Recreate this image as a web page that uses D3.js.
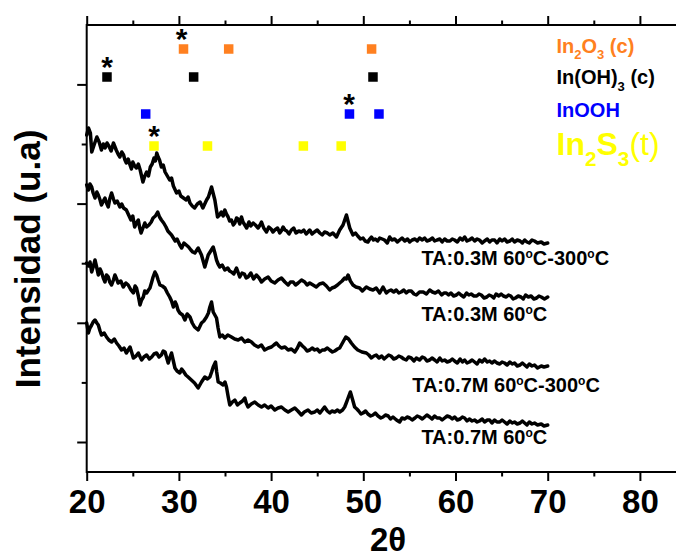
<!DOCTYPE html>
<html>
<head>
<meta charset="utf-8">
<script src="https://cdn.jsdelivr.net/npm/d3@7"></script>
<style>
  html, body { margin: 0; padding: 0; background: #fff; }
  svg { display: block; font-family: "Liberation Sans", Arial, sans-serif; }
</style>
</head>
<body>
<svg id="chart" width="676" height="558"></svg>
<script>
// XRD patterns, [2θ, intensity (a.u.)]
const ta03_300 = [
  [20.0,307],[20.2,314],[20.4,309],[20.55,290],[20.8,297],[21.1,305],[21.35,300],[21.6,292],[21.8,298],[22.0,294],
  [22.2,299],[22.4,296],[22.65,291],[22.9,299],[23.2,292],[23.4,288],[23.6,285],[23.8,290],[24.0,287],[24.15,282],
  [24.3,279],[24.5,283],[24.7,277],[24.85,273],[25.0,280],[25.2,276],[25.4,274],[25.6,278],[25.8,272],[26.1,260],
  [26.3,266],[26.5,270],[26.7,266],[26.9,275],[27.1,278],[27.3,284],[27.45,281],[27.6,289],[27.75,285],[27.9,282],
  [28.1,275],[28.3,277],[28.5,270],[28.75,266],[29.0,262],[29.2,264],[29.4,256],[29.6,252],[29.75,249],[30.0,251],
  [30.2,246],[30.5,244],[30.8,242],[31.0,245],[31.2,239],[31.45,236],[31.7,234],[32.0,238],[32.3,240],[32.6,234],
  [33.0,242],[33.2,245],[33.54,255],[33.9,242],[34.19,225],[34.4,227],[34.6,230],[34.8,226],[34.98,232],[35.15,228],
  [35.34,225],[35.5,221],[35.7,222],[35.9,217],[36.07,219],[36.25,224],[36.4,223],[36.6,218],[36.79,225],[36.95,220],
  [37.15,217],[37.35,214],[37.6,220],[37.8,216],[38.05,219],[38.3,217],[38.59,214],[38.8,217],[38.96,220],[39.2,214],
  [39.5,210],[39.75,215],[40.0,213],[40.2,210],[40.4,212],[40.7,214],[40.94,209],[41.1,211],[41.3,215],[41.5,212],
  [41.7,211],[41.95,208],[42.2,212],[42.45,214],[42.7,209],[43.0,211],[43.29,210],[43.55,212],[43.8,208],[44.0,210],
  [44.19,212],[44.45,208],[44.7,210],[45.0,212],[45.28,209],[45.55,207],[45.8,210],[46.1,209],[46.36,207],[46.7,209],
  [47.09,205],[47.44,212],[47.8,217],[48.17,227],[48.53,214],[48.88,207],[49.15,209],[49.4,206],[49.7,203],[49.97,204],
  [50.2,201],[50.5,200],[50.7,203],[50.88,205],[51.1,202],[51.3,203],[51.55,201],[51.78,204],[52.05,203],[52.3,202],
  [52.6,199],[52.86,205],[53.1,202],[53.4,203],[53.7,200],[53.94,202],[54.2,204],[54.5,201],[54.8,203],[55.03,200],
  [55.3,202],[55.6,203],[55.85,201],[56.1,204],[56.4,202],[56.65,204],[56.9,201],[57.2,202],[57.5,204],[57.74,201],
  [58.0,202],[58.3,203],[58.55,200],[58.82,203],[59.1,201],[59.4,201],[59.65,203],[59.9,202],[60.2,200],[60.5,204],
  [60.75,202],[60.99,205],[61.25,201],[61.5,202],[61.8,204],[62.07,201],[62.35,203],[62.6,202],[62.9,199],[63.15,201],
  [63.45,203],[63.7,200],[63.95,202],[64.24,202],[64.5,199],[64.8,203],[65.05,201],[65.32,203],[65.6,200],[65.9,201],
  [66.15,203],[66.4,200],[66.7,202],[67.0,201],[67.25,199],[67.5,202],[67.75,200],[68.0,199],[68.3,202],[68.57,201],
  [68.9,199],[69.3,200],[69.6,198],[70.0,199]
];
const ta03 = [
  [20.0,257],[20.18,252],[20.35,258],[20.54,255],[20.7,249],[20.9,244],[21.1,250],[21.26,247],[21.45,242],[21.6,237],
  [21.8,241],[21.98,244],[22.15,239],[22.34,235],[22.5,243],[22.7,249],[22.9,243],[23.06,239],[23.3,241],[23.6,235],
  [23.8,238],[24.0,234],[24.3,232],[24.55,227],[24.8,222],[25.0,226],[25.2,215],[25.4,219],[25.6,222],[25.75,214],
  [25.9,209],[26.1,214],[26.3,219],[26.5,215],[26.75,217],[27.0,220],[27.2,224],[27.45,226],[27.7,230],[27.9,225],
  [28.1,222],[28.35,219],[28.6,215],[28.8,211],[29.0,209],[29.2,207],[29.4,204],[29.6,201],[29.8,203],[30.1,197],
  [30.3,194],[30.55,199],[30.8,197],[31.05,195],[31.3,192],[31.5,190],[31.73,189],[32.09,194],[32.45,187],[32.81,175],
  [33.18,187],[33.45,191],[33.72,195],[33.9,189],[34.08,182],[34.25,178],[34.44,175],[34.7,177],[34.98,172],[35.3,174],
  [35.5,171],[35.7,170],[35.95,168],[36.25,174],[36.6,165],[36.85,169],[37.1,168],[37.3,164],[37.5,165],[37.8,169],
  [38.1,163],[38.4,167],[38.7,164],[38.96,160],[39.3,163],[39.68,165],[40.0,161],[40.4,159],[40.75,162],[41.12,164],
  [41.5,160],[41.85,157],[42.1,160],[42.4,160],[42.65,157],[42.93,159],[43.3,162],[43.65,160],[43.9,157],[44.19,159],
  [44.55,157],[44.9,155],[45.25,158],[45.64,159],[46.0,156],[46.36,152],[46.6,154],[46.9,155],[47.2,157],[47.44,159],
  [47.7,161],[47.98,164],[48.15,163],[48.35,167],[48.6,161],[48.88,157],[49.2,155],[49.6,154],[49.9,151],[50.33,155],
  [50.7,153],[51.05,152],[51.4,154],[51.78,149],[52.14,155],[52.5,149],[52.75,151],[53.0,152],[53.3,150],[53.58,152],
  [53.85,149],[54.1,150],[54.4,152],[54.66,149],[54.9,151],[55.2,151],[55.5,148],[55.75,147],[56.1,150],[56.5,150],
  [56.85,148],[57.2,152],[57.5,150],[57.8,149],[58.15,151],[58.5,147],[58.75,149],[59.0,149],[59.25,147],[59.5,149],
  [59.8,146],[60.1,147],[60.35,149],[60.6,147],[60.9,145],[61.2,149],[61.45,147],[61.7,148],[62.0,146],[62.3,146],
  [62.55,148],[62.8,147],[63.1,144],[63.4,145],[63.65,147],[63.9,146],[64.15,144],[64.4,148],[64.7,146],[64.95,148],
  [65.2,146],[65.5,145],[65.75,147],[66.0,146],[66.25,143],[66.5,144],[66.8,146],[67.1,145],[67.35,143],[67.6,147],
  [67.9,145],[68.2,146],[68.5,143],[68.8,144],[69.05,146],[69.3,145],[69.65,143],[70.0,145]
];
const ta07_300 = [
  [20.0,179],[20.2,176],[20.36,180],[20.54,170],[20.7,175],[20.9,182],[21.1,174],[21.26,167],[21.45,173],[21.6,170],
  [21.8,164],[21.98,160],[22.15,167],[22.34,165],[22.5,160],[22.7,157],[22.9,162],[23.06,167],[23.25,163],[23.4,159],
  [23.7,161],[23.97,155],[24.25,159],[24.5,157],[24.8,152],[25.06,149],[25.25,156],[25.4,154],[25.6,146],[25.78,137],
  [25.95,142],[26.14,145],[26.3,151],[26.5,149],[26.7,152],[26.86,154],[27.05,160],[27.2,165],[27.4,170],[27.58,167],
  [27.75,162],[27.94,157],[28.2,156],[28.48,154],[28.75,149],[29.0,145],[29.2,141],[29.4,135],[29.6,140],[29.75,137],
  [29.9,132],[30.1,129],[30.4,127],[30.65,122],[30.9,128],[31.2,125],[31.45,119],[31.7,115],[32.09,112],[32.45,119],
  [32.7,121],[32.99,125],[33.2,129],[33.36,135],[33.54,140],[33.72,130],[33.9,127],[34.08,124],[34.25,114],[34.44,105],
  [34.7,107],[34.98,104],[35.3,107],[35.7,105],[36.05,103],[36.43,102],[36.8,104],[37.15,100],[37.5,102],[37.87,100],
  [38.2,97],[38.6,95],[38.95,97],[39.3,92],[39.7,94],[40.04,95],[40.3,97],[40.58,99],[40.85,96],[41.12,94],
  [41.5,95],[41.85,92],[42.2,93],[42.57,90],[42.85,94],[43.1,99],[43.4,96],[43.65,94],[43.9,91],[44.19,92],
  [44.45,94],[44.73,92],[45.0,93],[45.28,90],[45.55,92],[45.8,92],[46.1,94],[46.36,92],[46.65,90],[46.9,91],
  [47.2,93],[47.44,94],[47.8,100],[48.1,105],[48.4,103],[48.7,99],[49.05,95],[49.4,92],[49.85,90],[50.33,89],
  [50.6,87],[50.88,84],[51.15,86],[51.4,87],[51.7,84],[52.0,86],[52.25,83],[52.5,85],[52.75,87],[53.0,86],
  [53.3,83],[53.58,84],[53.85,86],[54.1,85],[54.4,83],[54.66,82],[54.9,85],[55.2,84],[55.5,81],[55.75,84],
  [56.1,82],[56.4,85],[56.65,84],[56.9,81],[57.2,82],[57.45,84],[57.74,82],[58.0,80],[58.3,84],[58.55,81],
  [58.82,82],[59.1,80],[59.4,81],[59.65,83],[59.9,81],[60.2,79],[60.5,83],[60.75,80],[60.99,82],[61.25,79],
  [61.5,80],[61.8,82],[62.07,80],[62.35,78],[62.6,82],[62.9,80],[63.15,83],[63.45,80],[63.7,81],[63.95,79],
  [64.24,81],[64.5,79],[64.8,78],[65.05,80],[65.32,79],[65.6,77],[65.9,80],[66.15,78],[66.4,79],[66.7,76],
  [67.0,77],[67.25,79],[67.5,77],[67.75,75],[68.0,78],[68.3,76],[68.57,77],[68.9,74],[69.3,76],[69.6,75],
  [70.0,76]
];
const ta07 = [
  [20.0,119],[20.18,109],[20.35,114],[20.54,117],[20.7,120],[20.9,122],[21.1,119],[21.26,117],[21.45,111],[21.6,107],
  [21.9,109],[22.15,105],[22.4,102],[22.7,100],[23.0,103],[23.24,99],[23.5,96],[23.78,92],[24.05,94],[24.3,89],
  [24.5,92],[24.7,95],[24.9,89],[25.06,84],[25.35,86],[25.6,89],[25.8,85],[25.96,82],[26.2,85],[26.5,87],
  [26.8,83],[27.05,85],[27.3,88],[27.58,89],[27.85,85],[28.1,87],[28.3,91],[28.5,90],[28.65,85],[28.84,79],
  [29.0,84],[29.2,89],[29.4,81],[29.57,74],[29.8,71],[30.1,69],[30.3,73],[30.47,71],[30.75,67],[31.0,65],
  [31.35,62],[31.7,59],[32.09,54],[32.45,60],[32.81,65],[33.1,63],[33.36,65],[33.55,70],[33.72,75],[33.97,80],
  [34.1,70],[34.26,60],[34.5,59],[34.8,57],[35.0,60],[35.16,55],[35.35,45],[35.52,37],[35.8,40],[36.07,42],
  [36.35,37],[36.6,39],[36.9,41],[37.15,44],[37.3,39],[37.5,35],[37.85,38],[38.23,40],[38.6,37],[38.96,35],
  [39.3,37],[39.68,34],[40.0,36],[40.4,32],[40.75,34],[41.12,35],[41.5,32],[41.85,30],[42.2,32],[42.57,34],
  [42.9,31],[43.29,27],[43.6,30],[44.0,32],[44.35,29],[44.73,30],[45.0,32],[45.3,29],[45.55,32],[45.8,35],
  [46.1,31],[46.36,29],[46.6,31],[46.9,30],[47.2,32],[47.44,30],[47.75,32],[47.98,35],[48.15,39],[48.35,44],
  [48.6,50],[48.85,42],[49.06,35],[49.3,33],[49.5,31],[49.75,28],[49.97,29],[50.25,31],[50.5,28],[50.8,26],
  [51.05,27],[51.3,29],[51.6,26],[51.9,24],[52.14,25],[52.4,27],[52.7,26],[52.95,23],[53.22,25],[53.6,22],
  [53.94,20],[54.2,24],[54.5,23],[54.75,25],[55.03,24],[55.3,22],[55.6,24],[55.85,26],[56.1,25],[56.4,23],
  [56.65,25],[56.9,27],[57.2,25],[57.45,23],[57.74,26],[58.0,24],[58.3,24],[58.55,22],[58.82,24],[59.1,26],
  [59.4,25],[59.65,23],[59.9,25],[60.2,22],[60.5,23],[60.75,25],[60.99,24],[61.25,21],[61.5,23],[61.8,21],
  [62.07,22],[62.35,20],[62.6,21],[62.9,23],[63.15,20],[63.45,22],[63.7,22],[63.95,19],[64.24,22],[64.5,20],
  [64.8,20],[65.05,22],[65.32,20],[65.6,18],[65.9,21],[66.15,19],[66.4,20],[66.7,18],[67.0,19],[67.25,21],
  [67.5,19],[67.75,17],[68.0,20],[68.3,18],[68.57,19],[68.9,17],[69.3,18],[69.6,16],[70.0,17]
];

// sample names, each drawn beside its pattern
const sampleLabels = [
  {parts: ["TA:0.3M 60", "o", "C-300", "o", "C"], at: 56.3, level: 177},
  {parts: ["TA:0.3M 60", "o", "C"], at: 56.3, level: 121},
  {parts: ["TA:0.7M 60", "o", "C-300", "o", "C"], at: 55.3, level: 50},
  {parts: ["TA:0.7M 60", "o", "C"], at: 56.3, level: -2}
];

// reference reflections of each phase (2θ)
const in2o3Peaks = [30.5, 35.4, 50.9];
const inoh3Peaks = [22.2, 31.6, 51.05];
const inoohPeaks = [26.4, 48.5, 51.7];
const in2s3Peaks = [27.3, 33.1, 43.5, 47.6];
// reflections marked with an asterisk
const starredPeaks = [22.2, 30.3, 27.3, 48.45];
const starredRows = ["inoh3", "in2o3", "in2s3", "inooh"];

const xTicks = [20, 30, 40, 50, 60, 70, 80];
const xMinorTicks = [25, 35, 45, 55, 65, 75, 85];

// ---------------------------------------------------------------
const svg = d3.select("#chart");
const plotLeft = 86.7, plotRight = 686.0, plotTop = 25, plotBottom = 472;

const x = d3.scaleLinear().domain([20, 85]).range([plotLeft, plotRight]);
const y = d3.scaleLinear().domain([-30, 417]).range([plotBottom, plotTop]);

const yStep = 59.6;
const yMajor = [0, 2, 4, 6].map(k => k * yStep);
const yMinor = [1, 3, 5].map(k => k * yStep);

const axisG = svg.append("g");
const axisStyle = g => {
  g.select(".domain").remove();
  g.selectAll(".tick line").attr("stroke", "#000").attr("stroke-width", 2);
};

// bottom axis with labels
const bottomAxis = axisG.append("g").attr("transform", `translate(0,${plotBottom})`)
  .call(d3.axisBottom(x).tickValues(xTicks).tickSize(9).tickPadding(8.6).tickFormat(d3.format("d")))
  .call(axisStyle);
bottomAxis.selectAll("text")
  .attr("fill", "#000").attr("font-size", 33).attr("font-weight", "bold")
  .attr("font-family", "Liberation Sans, Arial, sans-serif");
axisG.append("g").attr("transform", `translate(0,${plotBottom})`)
  .call(d3.axisBottom(x).tickValues(xMinorTicks).tickSize(4.5).tickFormat(""))
  .call(axisStyle);

// top axis, ticks only
axisG.append("g").attr("transform", `translate(0,${plotTop})`)
  .call(d3.axisTop(x).tickValues(xTicks).tickSize(9).tickFormat(""))
  .call(axisStyle);
axisG.append("g").attr("transform", `translate(0,${plotTop})`)
  .call(d3.axisTop(x).tickValues(xMinorTicks).tickSize(4.5).tickFormat(""))
  .call(axisStyle);

// left axis, ticks only
axisG.append("g").attr("transform", `translate(${plotLeft},0)`)
  .call(d3.axisLeft(y).tickValues(yMajor).tickSize(9.5).tickFormat(""))
  .call(axisStyle);
axisG.append("g").attr("transform", `translate(${plotLeft},0)`)
  .call(d3.axisLeft(y).tickValues(yMinor).tickSize(5).tickFormat(""))
  .call(axisStyle);

// frame
svg.append("rect")
  .attr("x", plotLeft).attr("y", plotTop)
  .attr("width", plotRight - plotLeft).attr("height", plotBottom - plotTop)
  .attr("fill", "none").attr("stroke", "#000").attr("stroke-width", 2);

// patterns
const line = d3.line().x(d => x(d[0])).y(d => y(d[1]));
[ta03_300, ta03, ta07_300, ta07].forEach(series => {
  svg.append("path")
    .datum(series)
    .attr("d", line)
    .attr("fill", "none")
    .attr("stroke", "#000")
    .attr("stroke-width", 3.5)
    .attr("stroke-linejoin", "round")
    .attr("stroke-linecap", "round");
});

// sample labels
sampleLabels.forEach(s => {
  const t = svg.append("text")
    .attr("x", x(s.at)).attr("y", y(s.level))
    .attr("font-size", 20).attr("font-weight", "bold").attr("fill", "#000");
  s.parts.forEach((p, i) => {
    const ts = t.append("tspan").text(p);
    if (p === "o") ts.attr("font-size", 12).attr("dy", -7);
    else if (i > 0) ts.attr("dy", 7);
  });
});

// phase reference markers
const phases = [
  {key: "in2o3", peaks: in2o3Peaks, color: "#ff8020", row: 49},
  {key: "inoh3", peaks: inoh3Peaks, color: "#000000", row: 77},
  {key: "inooh", peaks: inoohPeaks, color: "#0000ff", row: 114},
  {key: "in2s3", peaks: in2s3Peaks, color: "#ffff00", row: 146}
];
const sq = 9.5;
phases.forEach(p => {
  svg.append("g").selectAll("rect")
    .data(p.peaks).join("rect")
    .attr("x", d => x(d) - sq / 2)
    .attr("y", p.row - sq / 2)
    .attr("width", sq).attr("height", sq)
    .attr("fill", p.color);
});

// asterisks above the marked reflections
const rowOf = Object.fromEntries(phases.map(p => [p.key, p.row]));
svg.append("g").selectAll("text")
  .data(starredPeaks.map((d, i) => ({pos: d, row: rowOf[starredRows[i]]})))
  .join("text")
  .attr("x", d => x(d.pos))
  .attr("y", d => d.row - 17 + 17)
  .attr("text-anchor", "middle")
  .attr("font-size", 30)
  .attr("font-weight", "bold")
  .attr("fill", "#000")
  .text("*");

// phase legend
function legendEntry(yBase, color, size, pieces) {
  const t = svg.append("text")
    .attr("x", 556.5).attr("y", yBase)
    .attr("fill", color).attr("font-size", size).attr("font-weight", "bold");
  let shift = 0;
  pieces.forEach(pc => {
    const ts = t.append("tspan").text(pc.t);
    const want = pc.sub ? size * 0.33 : 0;
    if (want !== shift) { ts.attr("dy", want - shift); shift = want; }
    if (pc.sub) ts.attr("font-size", size * 0.65);
    if (pc.normal) ts.attr("font-weight", "normal");
  });
}
legendEntry(52.7, "#ff8020", 20, [{t: "In"}, {t: "2", sub: true}, {t: "O"}, {t: "3", sub: true}, {t: " (c)"}]);
legendEntry(84.3, "#000000", 20, [{t: "In(OH)"}, {t: "3", sub: true}, {t: " (c)"}]);
legendEntry(117.3, "#0000ff", 20, [{t: "InOOH"}]);
legendEntry(155, "#ffff00", 32, [{t: "In"}, {t: "2", sub: true}, {t: "S"}, {t: "3", sub: true}, {t: "(t)", normal: true}]);

// axis titles
svg.append("text")
  .attr("transform", "translate(40,259) rotate(-90)")
  .attr("text-anchor", "middle")
  .attr("font-size", 35).attr("font-weight", "bold").attr("fill", "#000")
  .text("Intensidad (u.a)");

svg.append("text")
  .attr("x", 388).attr("y", 551)
  .attr("text-anchor", "middle")
  .attr("font-size", 33).attr("font-weight", "bold").attr("fill", "#000")
  .text("2θ");
</script>
</body>
</html>
